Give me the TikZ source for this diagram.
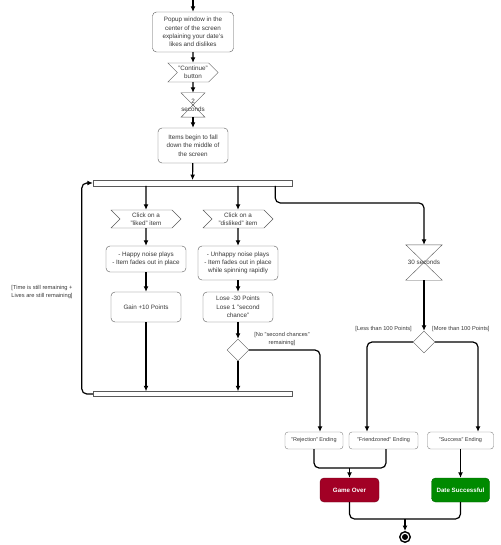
\documentclass[tikz,border=0pt]{standalone}
\usepackage{fontspec}
\setmainfont{Liberation Sans}
\usetikzlibrary{arrows.meta,shapes.geometric,shapes.symbols}

\definecolor{overred}{HTML}{A20025}
\definecolor{dategreen}{HTML}{008A00}

\begin{document}
\begin{tikzpicture}[x=1pt, y=-1pt, >={Latex[length=5.5pt,width=5pt]},
  every node/.style = {align=center, text=black!78, inner sep=1pt,
    font=\fontsize{6.3}{8.3}\selectfont},
  flow/.style = {draw=black, line width=1.2pt, rounded corners=5pt}]
  \tikzstyle{box}=[rectangle, rounded corners=4pt, draw=black!65, fill=white]
  \tikzstyle{sig}=[signal, signal from=west, signal to=east, draw=black!65, fill=white,
    minimum width=70pt, minimum height=18pt]
  \tikzstyle{bar}=[rectangle, draw=black!65, fill=white, minimum width=199pt, minimum height=5.5pt, inner sep=0pt]
  \tikzstyle{decision}=[diamond, draw=black!65, fill=white, minimum size=22pt, inner sep=0pt]
  \tikzstyle{guard}=[font=\fontsize{5.7}{7.6}\selectfont]
  \tikzstyle{ending}=[box, rounded corners=3pt, draw=black!50, minimum height=17pt, font=\fontsize{5.5}{7}\selectfont]
  \tikzstyle{result}=[rectangle, rounded corners=4pt, minimum width=59pt, minimum height=24pt,
    text=white, font=\fontsize{6.2}{8}\selectfont\bfseries]

  \useasboundingbox (0,0) rectangle (500,545);

  % main column
  \coordinate (start) at (193,0);
  \node[box, minimum width=81pt, minimum height=40pt] (popup) at (193,32)
    {Popup window in the\\center of the screen\\explaining your date's\\likes and dislikes};
  \node[sig, minimum width=49pt, minimum height=19pt] (cont) at (193,72.5) {"Continue"\\button};
  \node[minimum width=19pt, minimum height=24pt, inner sep=0pt] (wait2) at (193,105) {2\\seconds};
  \node[box, minimum width=70pt, minimum height=35pt] (fall) at (193,145.5)
    {Items begin to fall\\down the middle of\\the screen};
  \node[bar] (fork) at (192.5,183) {};

  % liked / disliked branches
  \node[sig] (liked) at (146,219) {Click on a\\"liked" item};
  \node[sig] (disliked) at (238,219) {Click on a\\"disliked" item};
  \node[box, minimum width=80pt, minimum height=26pt] (happy) at (146,259)
    {- Happy noise plays\\- Item fades out in place};
  \node[box, minimum width=80pt, minimum height=34pt] (unhappy) at (238,263)
    {- Unhappy noise plays\\- Item fades out in place\\while spinning rapidly};
  \node[box, minimum width=70pt, minimum height=30pt] (gain) at (146,307) {Gain +10 Points};
  \node[box, minimum width=70pt, minimum height=30pt] (lose) at (238,307)
    {Lose -30 Points\\Lose 1 "second\\chance"};
  \node[decision] (dislikeq) at (238,350) {};
  \node[bar, minimum height=5pt] (join) at (192.5,394) {};
  \node[guard] (loopnote) at (42,292) {[Time is still remaining +\\Lives are still remaining]};
  \node[guard] (nochance) at (282,339) {[No "second chances"\\remaining]};

  % timer branch
  \node[minimum width=36pt, minimum height=35pt, inner sep=0pt] (wait30) at (424,262.5) {30 seconds};
  \node[decision] (scoreq) at (424,342) {};
  \node[guard, anchor=east] (less) at (413,329) {[Less than 100 Points]};
  \node[guard, anchor=west] (more) at (431,329) {[More than 100 Points]};

  % endings
  \node[ending, minimum width=58pt] (reject) at (314,440.5) {"Rejection" Ending};
  \node[ending, minimum width=69pt] (friend) at (383.5,440.5) {"Friendzoned" Ending};
  \node[ending, minimum width=66pt] (success) at (460.5,440.5) {"Success" Ending};
  \node[result, fill=overred, draw=overred!70!black] (over) at (349.5,490) {Game Over};
  \node[result, fill=dategreen, draw=dategreen!70!black, minimum width=58pt] (date) at (460.5,490) {Date Successful};
  \coordinate (mergeA) at (349.5,468);
  \coordinate (mergeB) at (405,519);
  \node[circle, draw=black, line width=1.4pt, fill=white, minimum size=10.5pt, inner sep=0pt] (stop) at (405,537) {};
  \fill (stop) circle (3pt);

  % hourglass outlines
  \foreach \n in {wait2,wait30}
    \draw[draw=black!65] (\n.north west) -- (\n.north east) -- (\n.south west) -- (\n.south east) -- cycle;

  % connectors
  \draw[flow,->] (start) -- (popup);
  \foreach \a/\b in {popup/cont, cont/wait2, wait2/fall, fall/fork, liked/happy, happy/gain,
      disliked/unhappy, unhappy/lose, lose/dislikeq, wait30/scoreq, success/date}
    \draw[flow,->] (\a) -- (\b);
  \draw[flow,->] (liked.north |- fork.south) -- (liked);
  \draw[flow,->] (disliked.north |- fork.south) -- (disliked);
  \draw[flow,->] (gain) -- (gain.south |- join.north);
  \draw[flow,->] (dislikeq) -- (dislikeq.south |- join.north);
  \draw[flow,->] ([xshift=-17pt]fork.south east) -- ++(0,17) -| (wait30);
  \draw[flow,->] (join.west) -- ++(-11,0) |- (fork.west);
  \draw[flow,->] (dislikeq.east) -| ([xshift=6pt]reject.north);
  \draw[flow,->] (scoreq.west) -| ([xshift=-16.5pt]friend.north);
  \draw[flow,->] (scoreq.east) -| ([xshift=17.5pt]success.north);
  \draw[flow] (reject) |- (mergeA) -| ([xshift=2.5pt]friend.south);
  \draw[flow,->] (mergeA) -- (over);
  \draw[flow] (over) |- (mergeB) -| (date);
  \draw[flow,->] (mergeB) -- (stop);
\end{tikzpicture}
\end{document}
